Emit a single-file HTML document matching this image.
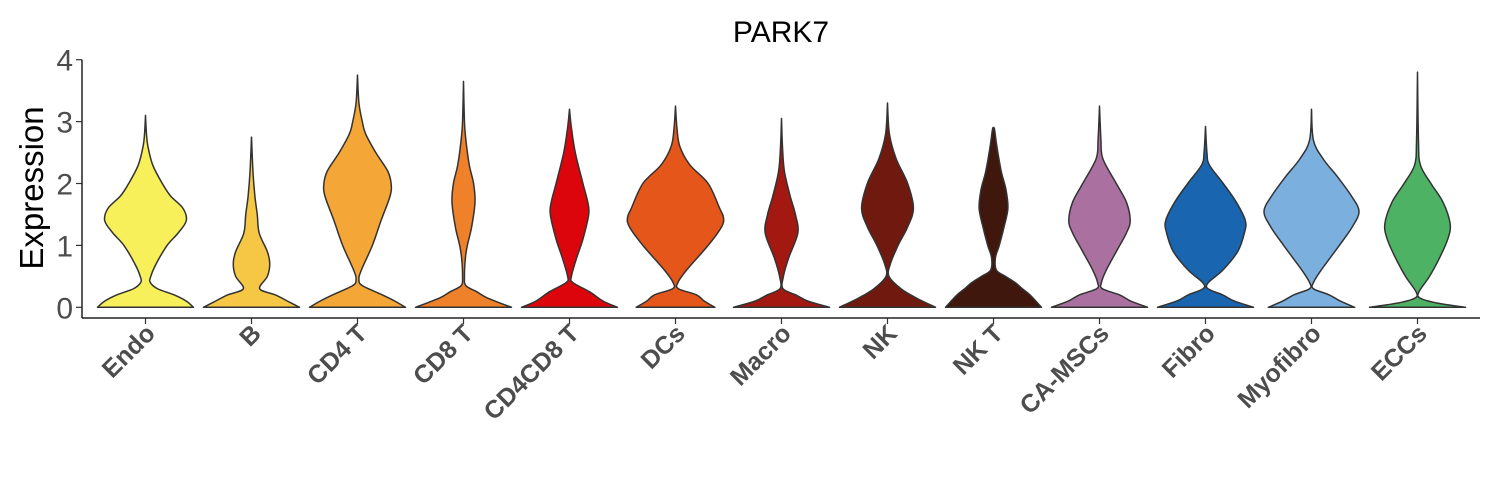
<!DOCTYPE html>
<html><head><meta charset="utf-8"><style>
body{margin:0;background:#fff;}
svg{display:block;font-family:"Liberation Sans",Arial,sans-serif;}
</style></head><body>
<svg id="chart" width="1500" height="500" viewBox="0 0 1500 500">
<text x="781" y="42" font-size="30" text-anchor="middle" fill="#000">PARK7</text>
<text transform="translate(43,188) rotate(-90)" font-size="33" text-anchor="middle" fill="#000">Expression</text>
<g id="marks"></g>
</svg>
<script>
const categories=["Endo","B","CD4 T","CD8 T","CD4CD8 T","DCs","Macro","NK","NK T","CA-MSCs","Fibro","Myofibro","ECCs"];
const colors=["#F8F05A","#F6C744","#F4A637","#EE8129","#DC050C","#E5561A","#A31811","#701A0F","#3F170D","#A970A0","#1965B0","#7BAFDE","#4EB265"];
const yTicks=[0,1,2,3,4];
// density profiles: [expression value, relative half-width]
const pEndo=[[0,1],[0.1,0.85],[0.2,0.6],[0.3,0.25],[0.4,0.1],[0.5,0.11],[0.7,0.22],[1.0,0.45],[1.2,0.68],[1.4,0.85],[1.6,0.78],[1.8,0.52],[2.0,0.35],[2.3,0.15],[2.6,0.05],[2.8,0.02],[3.1,0]];
const pB=[[0,1],[0.1,0.75],[0.2,0.5],[0.3,0.17],[0.5,0.33],[0.7,0.38],[0.9,0.33],[1.2,0.16],[1.5,0.12],[1.8,0.07],[2.2,0.03],[2.75,0]];
const pCD4=[[0,1],[0.1,0.78],[0.2,0.52],[0.35,0.1],[0.45,0.03],[0.6,0.08],[1.0,0.31],[1.4,0.49],[1.8,0.68],[2.0,0.7],[2.2,0.63],[2.5,0.38],[2.8,0.17],[3.0,0.1],[3.3,0.03],[3.75,0]];
const pCD8=[[0,1],[0.15,0.5],[0.25,0.28],[0.35,0.05],[0.5,0.02],[0.8,0.04],[1.0,0.08],[1.3,0.17],[1.7,0.24],[2.0,0.21],[2.3,0.12],[2.7,0.05],[3.0,0.02],[3.65,0]];
const pCD48=[[0,1],[0.1,0.7],[0.25,0.42],[0.4,0.07],[0.5,0.04],[0.8,0.15],[1.1,0.28],[1.5,0.4],[1.7,0.38],[2.0,0.28],[2.5,0.12],[2.9,0.04],[3.2,0]];
const pDCs=[[0,0.82],[0.1,0.6],[0.2,0.44],[0.3,0.06],[0.4,0.05],[0.6,0.23],[1.0,0.68],[1.3,0.96],[1.45,1.0],[1.6,0.92],[2.0,0.68],[2.3,0.3],[2.6,0.09],[2.9,0.03],[3.25,0]];
const pMacro=[[0,1],[0.1,0.55],[0.2,0.3],[0.3,0.03],[0.5,0.04],[0.8,0.15],[1.2,0.34],[1.5,0.29],[1.8,0.18],[2.2,0.06],[2.6,0.02],[3.05,0]];
const pNK=[[0,1],[0.15,0.6],[0.3,0.28],[0.5,0.03],[0.7,0.06],[1.0,0.22],[1.3,0.42],[1.6,0.54],[2.0,0.42],[2.4,0.18],[2.8,0.04],[3.3,0]];
const pNKT=[[0,1],[0.2,0.76],[0.3,0.6],[0.4,0.45],[0.5,0.25],[0.6,0.06],[0.8,0.04],[1.0,0.12],[1.3,0.22],[1.6,0.3],[1.9,0.26],[2.2,0.16],[2.6,0.07],[2.88,0.02],[2.89,0]];
const pCAM=[[0,1],[0.1,0.65],[0.2,0.42],[0.3,0.06],[0.4,0.04],[0.6,0.14],[0.9,0.35],[1.2,0.56],[1.4,0.64],[1.7,0.56],[2.0,0.35],[2.4,0.07],[2.7,0.03],[3.25,0]];
const pFibro=[[0,1],[0.1,0.6],[0.2,0.36],[0.3,0.05],[0.4,0.06],[0.6,0.36],[0.9,0.67],[1.2,0.81],[1.4,0.83],[1.7,0.64],[2.0,0.37],[2.3,0.08],[2.5,0.03],[2.92,0]];
const pMyo=[[0,0.9],[0.1,0.6],[0.2,0.37],[0.3,0.04],[0.4,0.04],[0.6,0.2],[1.0,0.58],[1.3,0.85],[1.55,0.99],[1.8,0.83],[2.1,0.55],[2.4,0.24],[2.7,0.04],[3.2,0]];
const pECC=[[0,1],[0.07,0.4],[0.15,0.05],[0.25,0.03],[0.5,0.25],[0.8,0.46],[1.1,0.63],[1.35,0.68],[1.7,0.53],[2.0,0.28],[2.3,0.06],[2.7,0.02],[3.8,0]];
const profiles=[pEndo,pB,pCD4,pCD8,pCD48,pDCs,pMacro,pNK,pNKT,pCAM,pFibro,pMyo,pECC];

const NS="http://www.w3.org/2000/svg";
const svg=document.getElementById('marks');
const X0=82,X1=1480,Yb=318;
const xScale=i=>145.5+i*106;
const yScale=v=>307.3-v*61.9;
const HW=48;
function mk(t,a){const e=document.createElementNS(NS,t);for(const k in a)e.setAttribute(k,a[k]);return e;}
function smooth(pts){let d="";for(let i=0;i<pts.length-1;i++){const p0=pts[Math.max(0,i-1)],p1=pts[i],p2=pts[i+1],p3=pts[Math.min(pts.length-1,i+2)];
const c1=[p1[0]+(p2[0]-p0[0])/6,p1[1]+(p2[1]-p0[1])/6],c2=[p2[0]-(p3[0]-p1[0])/6,p2[1]-(p3[1]-p1[1])/6];
d+=` C${c1[0].toFixed(2)},${c1[1].toFixed(2)} ${c2[0].toFixed(2)},${c2[1].toFixed(2)} ${p2[0].toFixed(2)},${p2[1].toFixed(2)}`;}return d;}
profiles.forEach((p,i)=>{
  const cx=xScale(i);
  const right=p.map(q=>[cx+q[1]*HW,yScale(q[0])]);
  const left=p.slice().reverse().map(q=>[cx-q[1]*HW,yScale(q[0])]);
  const d=`M${right[0][0]},${right[0][1]}`+smooth(right)+` L${left[0][0]},${left[0][1]}`+smooth(left)+" Z";
  const path=mk('path',{d:d,fill:colors[i],stroke:"#333",'stroke-width':1.5,'stroke-linejoin':'round'});
  
  
  svg.appendChild(path);
  const tk=mk('line',{x1:cx,x2:cx,y1:Yb,y2:Yb+6,stroke:"#333",'stroke-width':1.2});
  
  
  svg.appendChild(tk);
  const lb=mk('text',{transform:`translate(${cx+11},${Yb+17}) rotate(-45)`,'text-anchor':'end','font-size':25,'font-weight':'bold',fill:"#4d4d4d"});
  lb.textContent=categories[i];
  
  
  svg.appendChild(lb);
});
yTicks.forEach(v=>{
  const y=yScale(v);
  const t=mk('line',{x1:X0-6,x2:X0,y1:y,y2:y,stroke:"#333",'stroke-width':1.2});
  
  
  svg.appendChild(t);
  const l=mk('text',{x:X0-9,y:y+11,'text-anchor':'end','font-size':30,fill:"#4d4d4d"});
  l.textContent=v;
  
  
  svg.appendChild(l);
});
const ax=mk('line',{x1:X0,x2:X0,y1:yScale(4),y2:Yb,stroke:"#222",'stroke-width':1.5});


svg.appendChild(ax);
const bx=mk('line',{x1:X0,x2:X1,y1:Yb,y2:Yb,stroke:"#222",'stroke-width':1.5});


svg.appendChild(bx);
</script>
</body></html>
